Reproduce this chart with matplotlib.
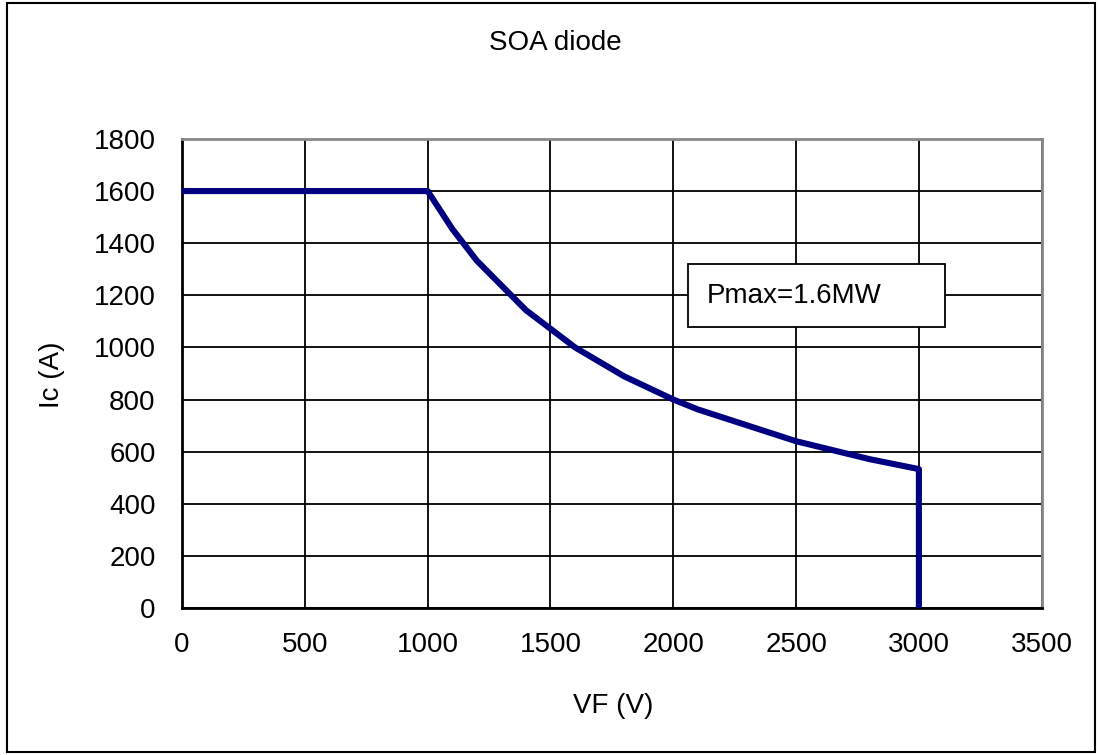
import matplotlib
matplotlib.use("Agg")
import matplotlib.pyplot as plt
from matplotlib.patches import Rectangle

plt.rcParams['font.family'] = ['Liberation Sans', 'DejaVu Sans']

# Safe operating area of the diode (forward voltage vs current)
vf = [0, 1000, 1100, 1200, 1400, 1600, 1800, 2000, 2100, 2500, 2800, 3000, 3000]
ic = [1600, 1600, 1455, 1333, 1143, 1000, 889, 800, 762, 640, 571, 533, 0]

x_ticks = [0, 500, 1000, 1500, 2000, 2500, 3000, 3500]
y_ticks = [0, 200, 400, 600, 800, 1000, 1200, 1400, 1600, 1800]

FS = 20

fig = plt.figure(figsize=(11, 7.55), dpi=100)
ax = fig.add_axes([0.1655, 0.1947, 0.7815, 0.6213])

ax.plot(vf, ic, color='#000080', lw=4.4, solid_capstyle='round',
        solid_joinstyle='round', zorder=3)

ax.set_xlim(0, 3500)
ax.set_ylim(0, 1800)
ax.set_xticks(x_ticks)
ax.set_yticks(y_ticks)
ax.tick_params(length=0, labelsize=FS)
ax.tick_params(axis='x', pad=17)
ax.tick_params(axis='y', pad=19)
ax.grid(True, color='black', lw=1.3)
ax.set_axisbelow(True)

for side in ('left', 'bottom'):
    ax.spines[side].set_color('black')
    ax.spines[side].set_linewidth(2)
for side in ('top', 'right'):
    ax.spines[side].set_color('#888888')
    ax.spines[side].set_linewidth(2)

# Axis titles and chart title
fig.text(0.557, 0.0649, 'VF (V)', fontsize=FS, ha='center', va='center')
fig.text(0.0473, 0.5033, 'Ic (A)', fontsize=FS, ha='center', va='center',
         rotation=90)
fig.text(0.505, 0.943, 'SOA diode', fontsize=FS, ha='center', va='center')

# Power limit annotation box
ax.add_patch(Rectangle((0.5884, 0.598), 0.2988, 0.136, transform=ax.transAxes,
                       facecolor='white', edgecolor='black', lw=1.3, zorder=4))
ax.text(0.6105, 0.666, 'Pmax=1.6MW', transform=ax.transAxes, fontsize=FS,
        ha='left', va='center', zorder=5)

# Outer frame around the figure
fig.add_artist(Rectangle((0.0064, 0.004), 0.9886, 0.992, transform=fig.transFigure,
                         fill=False, edgecolor='black', lw=1.5))

fig.savefig('out.png', dpi=100)
